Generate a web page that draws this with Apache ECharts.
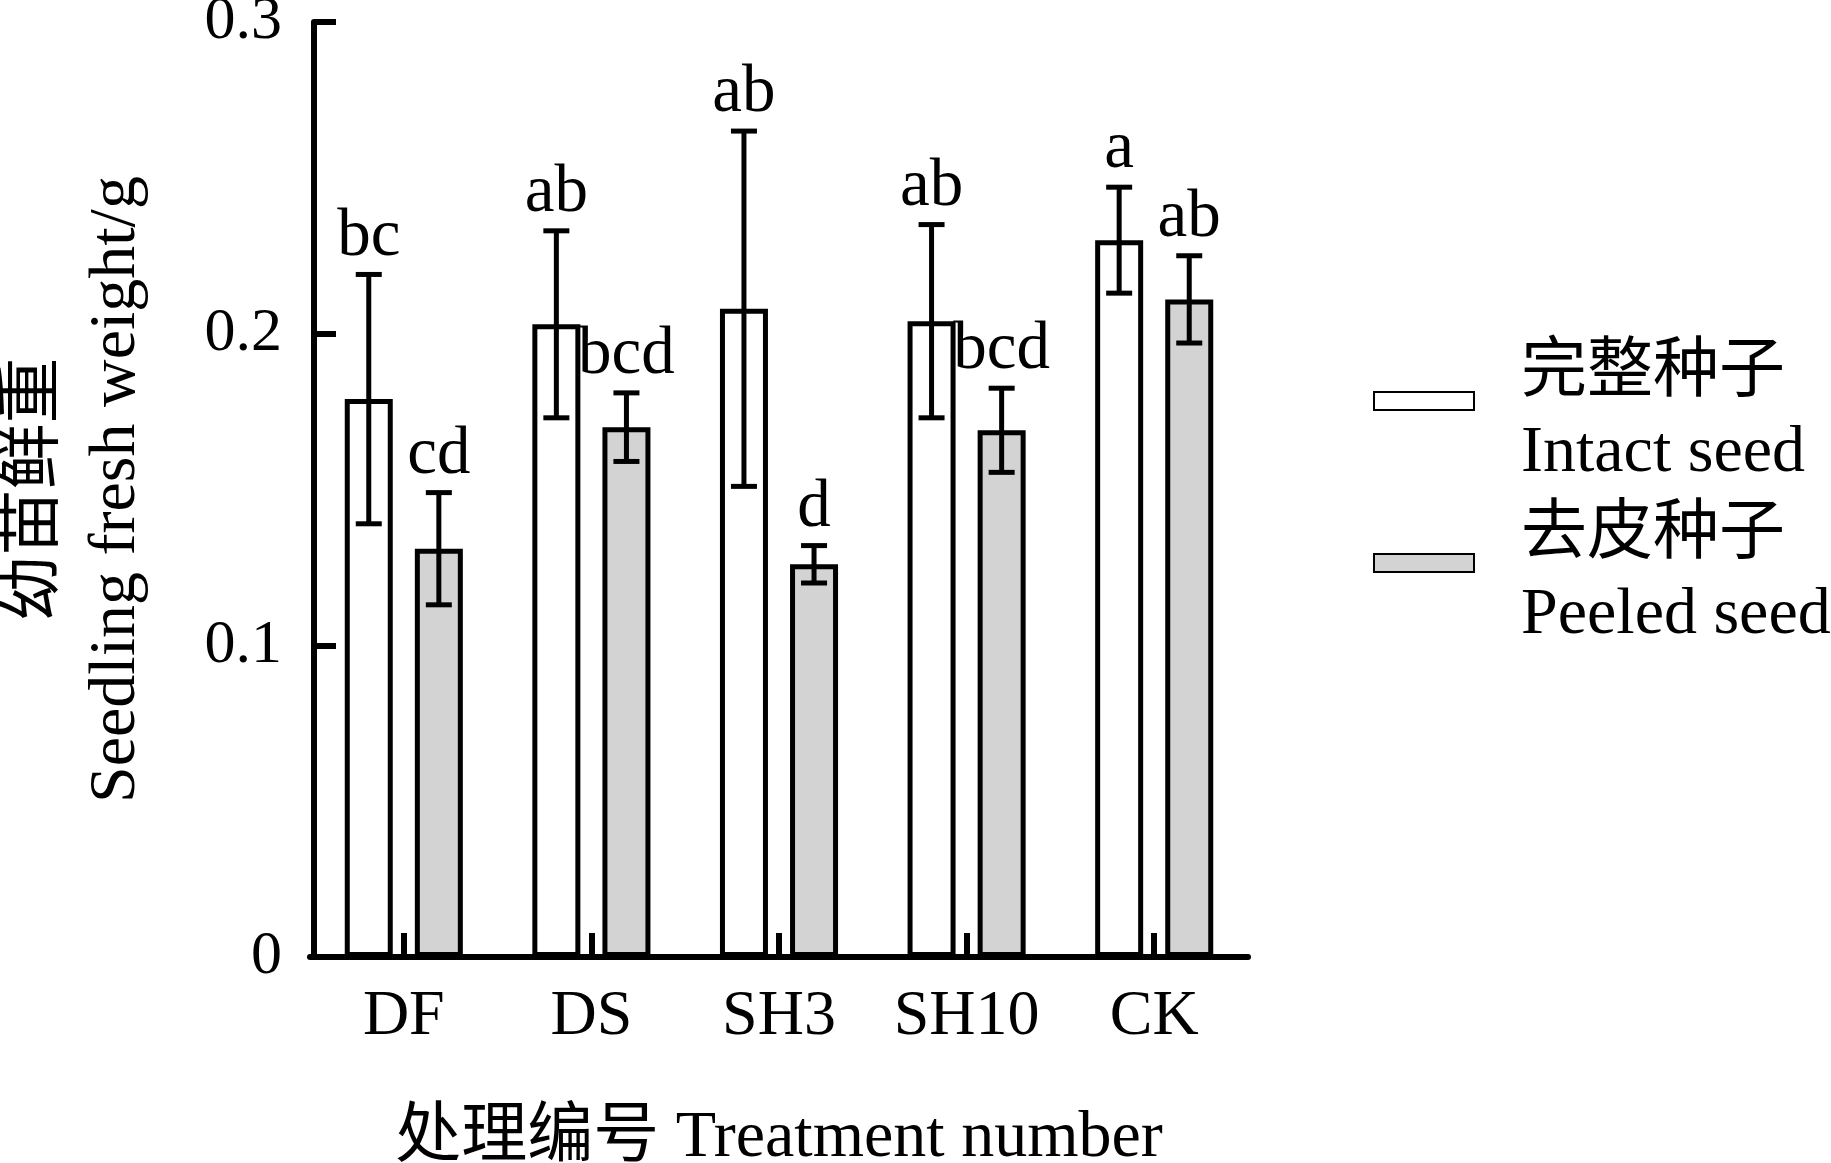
<!DOCTYPE html>
<html>
<head>
<meta charset="utf-8">
<script src="https://cdn.jsdelivr.net/npm/echarts@6/dist/echarts.min.js"></script>
<style>
  html, body { margin: 0; padding: 0; background: #fff; }
  #chart { width: 1831px; height: 1163px; }
</style>
</head>
<body>
<div id="chart"></div>
<script>
// values
var categories = ['DF', 'DS', 'SH3', 'SH10', 'CK'];
var intactMean = [0.179, 0.203, 0.208, 0.204, 0.230];
var intactErr = [0.040, 0.030, 0.057, 0.031, 0.017];
var peeledMean = [0.131, 0.170, 0.126, 0.169, 0.211];
var peeledErr = [0.018, 0.011, 0.006, 0.0135, 0.014];
var intactLetters = ['bc', 'ab', 'ab', 'ab', 'a'];
var peeledLetters = ['cd', 'bcd', 'd', 'bcd', 'ab'];
var yTicks = [0, 0.1, 0.2, 0.3];

var intactName = '完整种子\nIntact seed';
var peeledName = '去皮种子\nPeeled seed';

var FONT = "'Liberation Serif', 'Times New Roman', 'Noto Sans CJK SC', serif";
var BAR_W = 48;      // outer width, the border is drawn inside it
var BAR_GAP = 0.46;
var LINE_W = 5;

// error bar + significance letter, shifted onto its bar inside the category
function errorSeries(name, means, errs, letters, side) {
  var shift = side * (BAR_W + BAR_W * BAR_GAP) / 2;
  return {
    type: 'custom',
    name: name + '_err',
    z: 5,
    data: means.map(function (m, i) { return [i, m, errs[i]]; }),
    encode: { x: 0, y: 1 },
    renderItem: function (params, api) {
      var i = api.value(0);
      var m = api.value(1);
      var e = api.value(2);
      var top = api.coord([i, m + e]);
      var bot = api.coord([i, m - e]);
      var x = top[0] + shift;
      var cap = 13;
      var style = { stroke: '#000', lineWidth: 5 };
      return {
        type: 'group',
        children: [
          { type: 'line', shape: { x1: x, y1: top[1], x2: x, y2: bot[1] }, style: style },
          { type: 'line', shape: { x1: x - cap, y1: top[1], x2: x + cap, y2: top[1] }, style: style },
          { type: 'line', shape: { x1: x - cap, y1: bot[1], x2: x + cap, y2: bot[1] }, style: style },
          {
            type: 'text',
            style: {
              x: x, y: top[1] - 4,
              text: letters[params.dataIndex],
              fill: '#000',
              font: '67px ' + FONT,
              align: 'center',
              verticalAlign: 'bottom'
            }
          }
        ]
      };
    }
  };
}

var chart = echarts.init(document.getElementById('chart'));

chart.setOption({
  backgroundColor: '#fff',
  animation: false,
  textStyle: { fontFamily: FONT, color: '#000' },
  grid: { left: 310, top: 22, width: 938, bottom: 206, outerBoundsMode: 'none', containLabel: false },
  legend: {
    orient: 'vertical',
    left: 1373,
    top: 320,
    padding: 0,
    itemWidth: 100,
    itemHeight: 18,
    itemGap: -5,
    icon: 'rect',
    data: [intactName, peeledName],
    // empty spacer line on top pushes the two text lines a little below the icon
    formatter: function (name) {
      var parts = name.split('\n');
      return '{s| }\n{t|' + parts[0] + '}\n{t|' + parts[1] + '}';
    },
    textStyle: {
      fontFamily: FONT,
      fontSize: 66,
      color: '#000',
      padding: [0, 0, 0, 42],
      rich: {
        s: { fontSize: 2, lineHeight: 26 },
        t: { fontFamily: FONT, fontSize: 66, lineHeight: 80, color: '#000' }
      }
    }
  },
  xAxis: {
    type: 'category',
    data: categories,
    name: '处理编号 Treatment number',
    nameLocation: 'middle',
    nameGap: 149,
    nameTextStyle: { fontFamily: FONT, fontSize: 66, color: '#000' },
    axisLine: { lineStyle: { color: '#000', width: 6 } },
    axisTick: { show: true, inside: true, alignWithLabel: true, interval: 0, length: 24, lineStyle: { color: '#000', width: 6 } },
    axisLabel: { interval: 0, fontFamily: FONT, fontSize: 64, color: '#000', margin: 28 },
    splitLine: { show: false }
  },
  yAxis: {
    type: 'value',
    min: yTicks[0],
    max: yTicks[yTicks.length - 1],
    interval: 0.1,
    offset: -4,
    name: '幼苗鲜重\nSeedling fresh weight/g',
    nameLocation: 'middle',
    nameGap: 156,
    nameTextStyle: { fontFamily: FONT, fontSize: 66, lineHeight: 82, color: '#000' },
    axisLine: { show: true, lineStyle: { color: '#000', width: 6 } },
    axisTick: { show: true, inside: true, length: 22, lineStyle: { color: '#000', width: 6 } },
    axisLabel: {
      fontFamily: FONT, fontSize: 62, color: '#000', margin: 32,
      formatter: function (v) { return v === 0 ? '0' : v.toFixed(1); }
    },
    splitLine: { show: false }
  },
  series: [
    {
      type: 'bar',
      name: intactName,
      data: intactMean,
      barWidth: BAR_W,
      barGap: (BAR_GAP * 100) + '%',
      itemStyle: { color: '#fff', borderColor: '#000', borderWidth: LINE_W }
    },
    {
      type: 'bar',
      name: peeledName,
      data: peeledMean,
      barWidth: BAR_W,
      itemStyle: { color: '#d3d3d3', borderColor: '#000', borderWidth: LINE_W }
    },
    errorSeries(intactName, intactMean, intactErr, intactLetters, -1),
    errorSeries(peeledName, peeledMean, peeledErr, peeledLetters, 1)
  ]
});
</script>
</body>
</html>
